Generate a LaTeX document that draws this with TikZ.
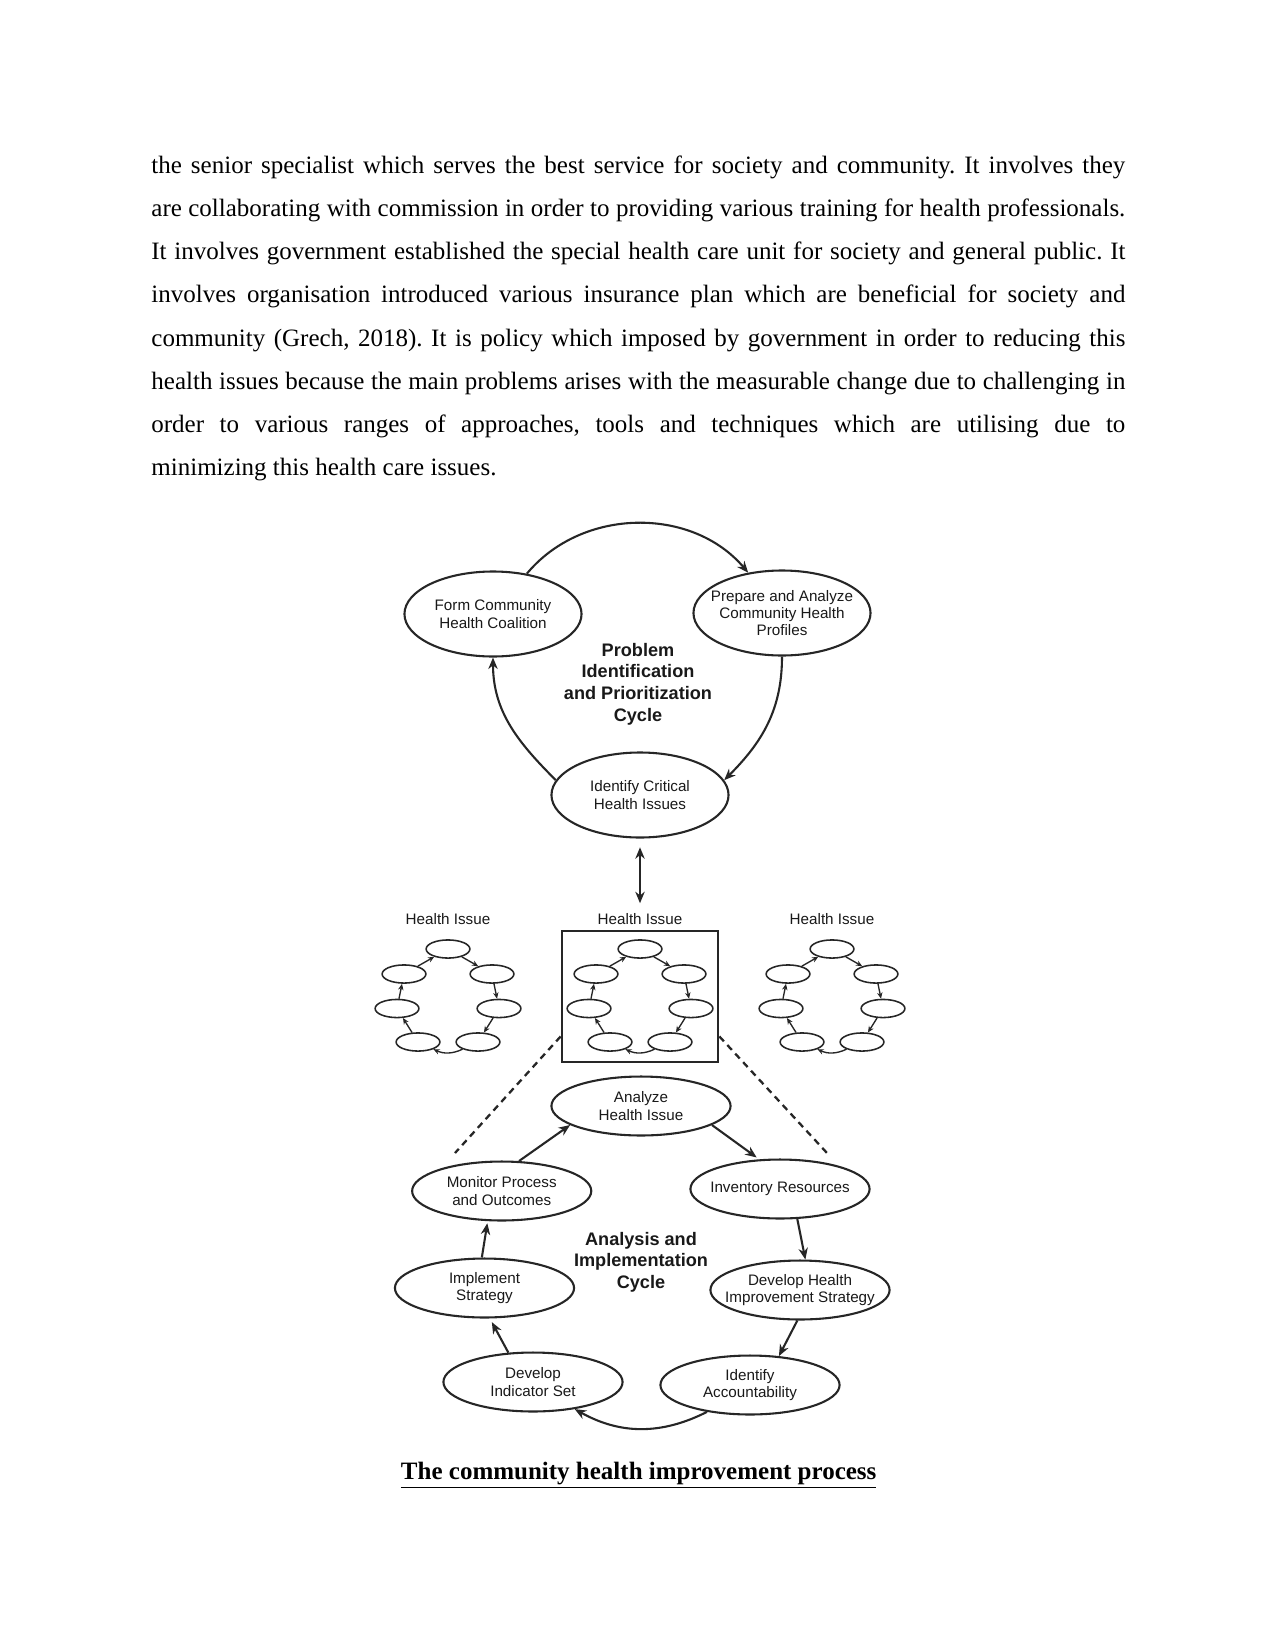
\documentclass[tikz,border=0pt]{standalone}
\usepackage{fontspec}
\setmainfont{Liberation Serif}
\newfontfamily\diagfont{Liberation Sans}
\usetikzlibrary{shapes.geometric,arrows.meta,positioning,calc}
\frenchspacing

\begin{document}
\begin{tikzpicture}[
    x=0.48pt, y=-0.48pt,
    bodyline/.style={anchor=base west, inner sep=0pt, font=\fontsize{12}{14}\selectfont},
    caption/.style={anchor=base, inner sep=0pt, font=\bfseries\fontsize{12}{14}\selectfont},
    cyclebox/.style={ellipse, draw=black!85, line width=1pt, align=center, inner xsep=-8pt, inner ysep=0pt, minimum width=85pt, text=black!90, font=\diagfont\fontsize{7.3}{8.3}\selectfont},
    topbox/.style={cyclebox, minimum height=40.8pt},
    lowbox/.style={cyclebox, minimum height=28.3pt, minimum width=86pt},
    cycletitle/.style={align=center, inner sep=0pt, text=black!90, font=\diagfont\bfseries\fontsize{8.7}{10.4}\selectfont},
    minicycle/.style={ellipse, draw=black!85, line width=0.75pt, minimum width=21pt, minimum height=8.7pt, inner sep=0pt},
    issuelabel/.style={inner sep=0pt, text=black!90, font=\diagfont\fontsize{7.3}{8.3}\selectfont},
    arrow/.style={-{Stealth[length=5.5pt,width=4.5pt]}, line width=1pt, draw=black!85},
    dblarrow/.style={{Stealth[length=5.5pt,width=4.5pt]}-{Stealth[length=5.5pt,width=4.5pt]}, line width=1pt, draw=black!85},
    tinyarrow/.style={-{Stealth[length=3pt,width=2.6pt]}, line width=0.65pt, draw=black!85},
    dashline/.style={line width=1.1pt, draw=black!85, dash pattern=on 3.2pt off 2.4pt}
]
    \fill[white] (0,0) rectangle (1275,1651);
    \useasboundingbox (0,0) rectangle (1275,1651);

    \foreach \linetext [count=\i] in {
        {the senior specialist which serves the best service for society and community. It involves they},
        {are collaborating with commission in order to providing various training for health professionals.},
        {It involves government established the special health care unit for society and general public. It},
        {involves organisation introduced various insurance plan which are beneficial for society and},
        {community (Grech, 2018). It is policy which imposed by government in order to reducing this},
        {health issues because the main problems arises with the measurable change due to challenging in},
        {order to various ranges of approaches, tools and techniques which are utilising due to}}
        \node[bodyline] (line\i) at (151,{173.3+43.2*(\i-1)}) {\makebox[467.5pt][s]{\linetext}};
    \node[bodyline] (line8) at (151,475.7) {minimizing this health care issues.};

    \node[topbox] (form) at (493,614) {Form Community\\Health Coalition};
    \node[topbox] (prep) at (782,613) {Prepare and Analyze\\Community Health\\Profiles};
    \node[topbox] (crit) at (640,795) {Identify Critical\\Health Issues};
    \node[cycletitle] (toptitle) at (638,684) {Problem\\Identification\\and Prioritization\\Cycle};

    \draw[arrow] (form.50) to[bend left=50] (prep.130);
    \draw[arrow] (prep.south) to[out=-90,in=45] (crit.10);
    \draw[arrow] (crit.170) to[out=135,in=-90] (form.south);

    \node[draw=black!85, line width=1pt, minimum width=75.2pt, minimum height=62.9pt, inner sep=0pt] (box) at (640,996.5) {};
    \foreach \cx [count=\k] in {448,640,832} {
        \node[issuelabel] (lab\k) at (\cx,919) {Health Issue};
        \node[minicycle] (hi\k-t) at (\cx,949) {};
        \node[minicycle] (hi\k-ul) at (\cx-44,974) {};
        \node[minicycle] (hi\k-ur) at (\cx+44,974) {};
        \node[minicycle] (hi\k-ml) at (\cx-51,1008.5) {};
        \node[minicycle] (hi\k-mr) at (\cx+51,1008.5) {};
        \node[minicycle] (hi\k-bl) at (\cx-30,1042) {};
        \node[minicycle] (hi\k-br) at (\cx+30,1042) {};
        \draw[tinyarrow] (hi\k-t) -- (hi\k-ur);
        \draw[tinyarrow] (hi\k-ur) -- (hi\k-mr);
        \draw[tinyarrow] (hi\k-mr) -- (hi\k-br);
        \draw[tinyarrow] (hi\k-br) to[bend left=25] (hi\k-bl);
        \draw[tinyarrow] (hi\k-bl) -- (hi\k-ml);
        \draw[tinyarrow] (hi\k-ml) -- (hi\k-ul);
        \draw[tinyarrow] (hi\k-ul) -- (hi\k-t);
    }

    \draw[dblarrow, shorten <=4.2pt, shorten >=4.7pt] (crit.south) -- (lab2.north);

    \coordinate (dashl) at (455,1153);
    \coordinate (dashr) at (827,1153);
    \draw[dashline] ($(box.south west)!0.2!(box.north west)$) -- (dashl);
    \draw[dashline] ($(box.south east)!0.2!(box.north east)$) -- (dashr);

    \node[lowbox] (analyze) at (641,1106) {Analyze\\Health Issue};
    \node[lowbox] (inventory) at (780,1189) {Inventory Resources};
    \node[lowbox] (devhealth) at (800,1290) {Develop Health\\Improvement Strategy};
    \node[lowbox] (account) at (750,1385) {Identify\\Accountability};
    \node[lowbox] (indicator) at (533,1382) {Develop\\Indicator Set};
    \node[lowbox] (implement) at (484.5,1288) {Implement\\Strategy};
    \node[lowbox] (monitor) at (501.7,1191) {Monitor Process\\and Outcomes};
    \node[cycletitle] (lowtitle) at (641,1262) {Analysis and\\Implementation\\Cycle};

    \draw[arrow] (monitor.60) -- (analyze.195);
    \draw[arrow, shorten >=1.5pt] (analyze.-15) -- (inventory.125);
    \draw[arrow] (inventory.-60) -- (devhealth.80);
    \draw[arrow] (devhealth.-95) -- (account.45);
    \draw[arrow] (account.-148) to[bend left=28] (indicator.-33);
    \draw[arrow, shorten >=2pt] (indicator.130) -- (implement.-80);
    \draw[arrow, shorten >=1pt] (implement.95) -- (monitor.-115);

    \node[caption] (figcap) at (638.7,1479.3) {\underline{The community health improvement process}};
\end{tikzpicture}
\end{document}
